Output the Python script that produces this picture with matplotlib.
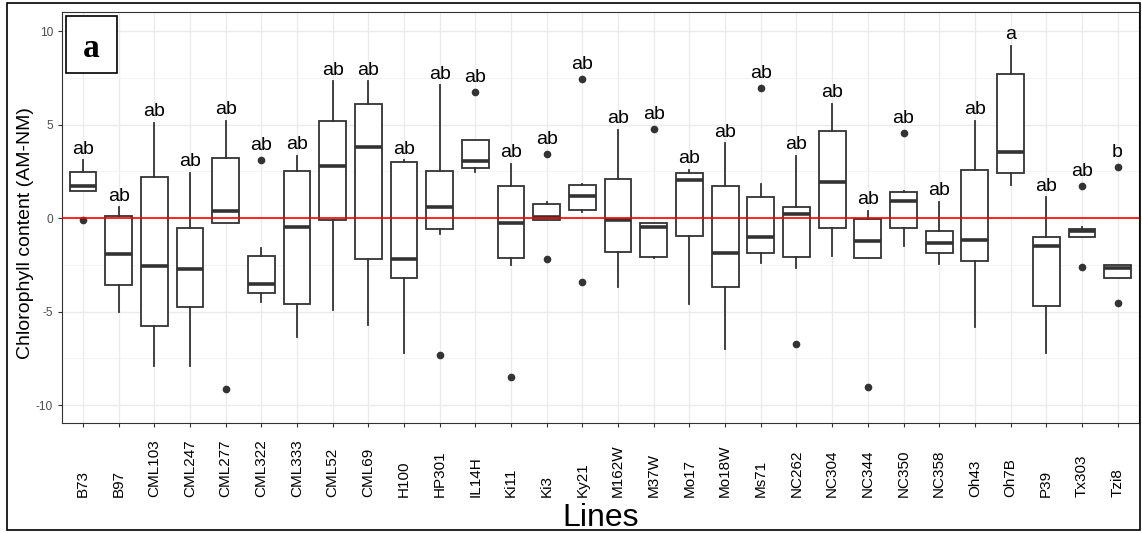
import matplotlib
matplotlib.use("Agg")
import matplotlib.pyplot as plt
from matplotlib.patches import Rectangle
from matplotlib.ticker import MultipleLocator

plt.rcParams['font.family'] = ['Liberation Sans', 'DejaVu Sans']
plt.rcParams['axes.unicode_minus'] = False

# Lineas y estadisticos
lines = ["B73", "B97", "CML103", "CML247", "CML277", "CML322", "CML333", "CML52",
         "CML69", "H100", "HP301", "IL14H", "Ki11", "Ki3", "Ky21", "M162W", "M37W",
         "Mo17", "Mo18W", "Ms71", "NC262", "NC304", "NC344", "NC350", "NC358",
         "Oh43", "Oh7B", "P39", "Tx303", "Tzi8"]
whisker_lo = [1.44, -5.0, -7.91, -7.91, -0.28, -4.51, -6.35, -4.94, -5.72, -7.2,
              -0.87, 2.44, -2.51, -0.11, 0.3, -3.71, -2.12, -4.6, -7.02, -2.4,
              -2.69, -2.01, -2.12, -1.48, -2.48, -5.81, 1.75, -7.2, -1.03, -3.19]
q1 = [1.44, -3.57, -5.79, -4.76, -0.28, -3.99, -4.62, -0.09, -2.18, -3.22,
      -0.57, 2.69, -2.16, -0.11, 0.43, -1.82, -2.1, -0.95, -3.67, -1.89,
      -2.07, -0.52, -2.12, -0.52, -1.89, -2.28, 2.42, -4.71, -1.03, -3.19]
median = [1.71, -1.91, -2.56, -2.72, 0.36, -3.5, -0.47, 2.8, 3.8, -2.2,
          0.6, 3.05, -0.28, 0.07, 1.18, -0.12, -0.5, 2.01, -1.86, -1.03,
          0.21, 1.94, -1.25, 0.91, -1.34, -1.18, 3.51, -1.5, -0.68, -2.69]
q3 = [2.48, 0.12, 2.19, -0.52, 3.22, -2.03, 2.53, 5.2, 6.1, 3.0,
      2.53, 4.17, 1.71, 0.73, 1.78, 2.07, -0.28, 2.42, 1.71, 1.1,
      0.6, 4.67, -0.07, 1.39, -0.68, 2.57, 7.68, -1.03, -0.6, -2.51]
whisker_hi = [3.1, 0.57, 5.1, 2.42, 5.2, -1.62, 3.32, 7.31, 7.31, 3.1,
              7.11, 4.17, 2.89, 0.84, 1.8, 4.71, -0.28, 2.57, 3.99, 1.8,
              3.32, 6.1, 0.39, 1.46, 0.87, 5.2, 9.2, 1.1, -0.5, -2.51]
outliers = [[-0.1], [], [], [], [-9.14], [3.1], [], [], [], [],
            [-7.33], [6.72], [-8.52], [3.41, -2.21], [7.42, -3.41], [], [4.74], [], [], [6.93],
            [-6.72], [], [-9.02], [4.53], [], [], [], [], [1.71, -2.6], [2.74, -4.53]]
letters = ["ab"] * 26 + ["a", "ab", "ab", "b"]

W, H = 1142, 533
fig = plt.figure(figsize=(W / 100, H / 100), dpi=100)
ax = fig.add_axes([61.5 / W, (H - 423) / H, (1139 - 61.5) / W, 411 / H])

stats = []
for i in range(len(lines)):
    stats.append({'whislo': whisker_lo[i], 'q1': q1[i], 'med': median[i],
                  'q3': q3[i], 'whishi': whisker_hi[i], 'fliers': outliers[i]})

pos = list(range(1, len(lines) + 1))
gris = '#333333'
ax.bxp(stats, positions=pos, widths=0.75, showcaps=False, patch_artist=True,
       boxprops=dict(facecolor='white', edgecolor=gris, linewidth=1.3),
       medianprops=dict(color=gris, linewidth=2.6, solid_capstyle='butt'),
       whiskerprops=dict(color=gris, linewidth=1.3),
       flierprops=dict(marker='o', markerfacecolor=gris, markeredgecolor=gris,
                       markersize=4.5))

ax.axhline(0, color='red', linewidth=1.2, zorder=5)

# letras de significancia sobre cada caja
for i in range(len(lines)):
    ytop = whisker_hi[i] + 0.35
    if outliers[i]:
        ytop = max(ytop, max(outliers[i]) + 0.55)
    ax.text(pos[i], ytop, letters[i], ha='center', va='baseline', fontsize=14)

ax.set_xlim(0.4, len(lines) + 0.6)
ax.set_ylim(-10.96, 11.02)
ax.set_xticks(pos)
ax.set_xticklabels(lines, rotation=90, fontsize=11, color='black')
for lab in ax.get_xticklabels():
    lab.set_va('bottom')
ax.tick_params(axis='x', length=3.2, color=gris, pad=50)
ax.set_yticks([-10, -5, 0, 5, 10])
ax.yaxis.set_minor_locator(MultipleLocator(2.5))
ax.tick_params(axis='y', which='major', length=3.2, color=gris, labelsize=8.6,
               labelcolor='#4D4D4D', pad=3)
ax.tick_params(axis='y', which='minor', length=0)

ax.grid(which='major', color='#EBEBEB', linewidth=1.0)
ax.grid(which='minor', axis='y', color='#F2F2F2', linewidth=0.6)
ax.set_axisbelow(True)
for s in ax.spines.values():
    s.set_color(gris)
    s.set_linewidth(0.8)

ax.set_ylabel('Chlorophyll content (AM-NM)', fontsize=14, va='center')
ax.yaxis.set_label_coords((25.5 - 61.5) / 1077.5, (423 - 233) / 411)
ax.set_xlabel('Lines', fontsize=23, va='baseline')
ax.xaxis.set_label_coords(0.5, (423 - 526) / 411)

# recuadro con la letra del panel
ax.add_patch(Rectangle((0.0039, 0.852), 0.0476, 0.139, transform=ax.transAxes,
                       facecolor='white', edgecolor='black', linewidth=1.2, zorder=6))
ax.text(0.0277, 0.891, 'a', transform=ax.transAxes, ha='center', va='baseline',
        fontsize=24, fontweight='bold', family='Liberation Serif', zorder=7)

# marco exterior
fig.patches.append(Rectangle((7 / W, 3 / H), 1133 / W, 527 / H, transform=fig.transFigure,
                             fill=False, edgecolor='black', linewidth=1.2))

fig.savefig('out.png', dpi=100)
